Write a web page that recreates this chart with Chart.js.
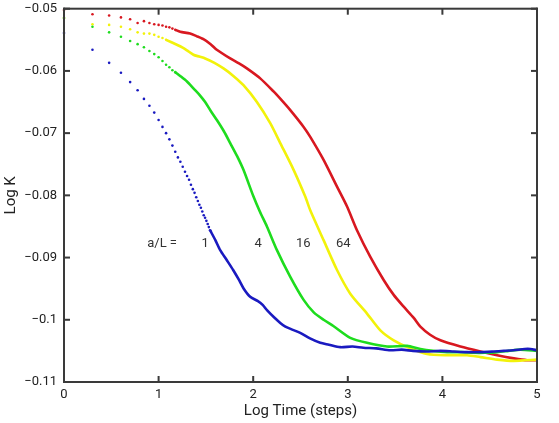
<!DOCTYPE html>
<html>
<head>
<meta charset="utf-8">
<script src="https://cdn.jsdelivr.net/npm/chart.js@4/dist/chart.umd.min.js"></script>
<style>
    html, body { margin: 0; padding: 0; background: #fff; overflow: hidden; }
    #wrap { width: 559px; height: 423px; }
</style>
</head>
<body>
<div id="wrap"><canvas id="kChart"></canvas></div>
<script>
// log10 of the first time steps (the dotted start of each curve)
var logT = [0, 0.301, 0.477, 0.602, 0.699, 0.778, 0.845, 0.903, 0.954, 1.000,
    1.041, 1.079, 1.114, 1.146, 1.176, 1.204, 1.230, 1.255, 1.279, 1.301,
    1.322, 1.342, 1.362, 1.380, 1.398, 1.415, 1.431, 1.447, 1.462, 1.477,
    1.491, 1.505, 1.519, 1.531, 1.544];

// a/L = 1
var blueDots = [-0.0539, -0.0566, -0.0587, -0.0603, -0.0618, -0.0631, -0.0645, -0.0656, -0.0667, -0.0679,
    -0.0690, -0.0700, -0.0710, -0.0720, -0.0730, -0.0739, -0.0746, -0.0754, -0.0762, -0.0769,
    -0.0775, -0.0783, -0.0790, -0.0796, -0.0803, -0.0809, -0.0815, -0.0820, -0.0826, -0.0832,
    -0.0836, -0.0841, -0.0846, -0.0851, -0.0856];
var blueLineX = [1.544, 1.60, 1.651, 1.72, 1.788, 1.85, 1.90, 1.968, 2.05, 2.10, 2.148, 2.22, 2.286, 2.34, 2.40, 2.497, 2.60, 2.709, 2.80, 2.92, 3.05, 3.164, 3.30, 3.45, 3.57, 3.69, 3.83, 3.98, 4.12, 4.26, 4.40, 4.54, 4.65, 4.75, 4.87, 4.93, 5.0];
var blueLineY = [-0.0856, -0.0872, -0.0888, -0.0904, -0.0920, -0.0936, -0.0950, -0.0963, -0.0970, -0.0976, -0.0985, -0.0996, -0.1005, -0.1011, -0.1015, -0.1021, -0.1030, -0.1037, -0.1040, -0.1044, -0.1043, -0.1045, -0.1046, -0.1049, -0.1048, -0.1050, -0.1051, -0.1050, -0.1051, -0.1052, -0.1052, -0.1051, -0.1050, -0.1049, -0.1047, -0.1047, -0.1049];

// a/L = 4
var greenDots = [-0.0515, -0.0529, -0.0538, -0.0545, -0.0552, -0.0557, -0.0562, -0.0568, -0.0573, -0.0578,
    -0.0584, -0.0590, -0.0594, -0.0599, -0.0602];
var greenLineX = [1.176, 1.228, 1.30, 1.368, 1.43, 1.492, 1.55, 1.616, 1.69, 1.757, 1.83, 1.897, 2.003, 2.07, 2.145, 2.251, 2.392, 2.533, 2.64, 2.744, 2.847, 3.026, 3.203, 3.415, 3.626, 3.767, 3.90, 4.05, 4.20, 4.328, 4.45, 4.582, 4.70, 4.825, 5.0];
var greenLineY = [-0.0602, -0.0608, -0.0617, -0.0628, -0.0638, -0.0650, -0.0664, -0.0679, -0.0697, -0.0716, -0.0737, -0.0759, -0.0802, -0.0826, -0.0850, -0.0888, -0.0931, -0.0968, -0.0988, -0.1000, -0.1010, -0.1029, -0.1037, -0.1043, -0.1042, -0.1047, -0.1050, -0.1052, -0.1052, -0.1053, -0.1053, -0.1052, -0.1050, -0.1048, -0.1050];

// a/L = 16
var yellowDots = [-0.0515, -0.0525, -0.0526, -0.0529, -0.0533, -0.0538, -0.0540, -0.0540, -0.0542, -0.0545,
    -0.0547, -0.0550];
var yellowLineX = [1.079, 1.193, 1.259, 1.30, 1.368, 1.43, 1.492, 1.59, 1.686, 1.79, 1.897, 2.039, 2.18, 2.286, 2.427, 2.55, 2.603, 2.744, 2.886, 3.026, 3.203, 3.344, 3.485, 3.661, 3.838, 4.05, 4.261, 4.402, 4.579, 4.755, 5.0];
var yellowLineY = [-0.0550, -0.0558, -0.0563, -0.0567, -0.0574, -0.0577, -0.0580, -0.0587, -0.0596, -0.0608, -0.0623, -0.0650, -0.0684, -0.0716, -0.0759, -0.0802, -0.0824, -0.0872, -0.0920, -0.0958, -0.0990, -0.1017, -0.1033, -0.1046, -0.1055, -0.1057, -0.1057, -0.1060, -0.1064, -0.1066, -0.1064];

// a/L = 64
var redDots = [-0.0502, -0.0509, -0.0511, -0.0514, -0.0517, -0.0523, -0.0520, -0.0523, -0.0525, -0.0526,
    -0.0527, -0.0529, -0.0530, -0.0532, -0.0534];
var redLineX = [1.176, 1.228, 1.333, 1.40, 1.474, 1.55, 1.615, 1.757, 1.85, 1.933, 2.074, 2.215, 2.30, 2.392, 2.533, 2.603, 2.744, 2.886, 2.992, 3.097, 3.238, 3.379, 3.485, 3.591, 3.697, 3.767, 3.87, 3.979, 4.19, 4.402, 4.579, 4.755, 4.896, 5.0];
var redLineY = [-0.0534, -0.0537, -0.0540, -0.0544, -0.0549, -0.0557, -0.0566, -0.0580, -0.0588, -0.0596, -0.0612, -0.0633, -0.0647, -0.0663, -0.0690, -0.0706, -0.0743, -0.0786, -0.0818, -0.0856, -0.0899, -0.0936, -0.0960, -0.0979, -0.0997, -0.1011, -0.1024, -0.1033, -0.1043, -0.1051, -0.1057, -0.1062, -0.1065, -0.1065];

var xTickLabels = ['0', '1', '2', '3', '4', '5'];
var yTickLabels = ['\u22120.11', '\u22120.1', '\u22120.09', '\u22120.08', '\u22120.07', '\u22120.06', '\u22120.05'];
var curveLabels = ['a/L =', '1', '4', '16', '64'];
var curveLabelX = [1.037, 1.492, 2.053, 2.529, 2.952];
var curveLabelY = -0.0878;

var BLUE = '#1a1ac0';
var GREEN = '#1edc1e';
var YELLOW = '#f2f20a';
var RED = '#d81820';
var FONT = 'Roboto, "Liberation Sans", sans-serif';

function pts(xs, ys) {
    return xs.map(function (x, i) { return {x: x, y: ys[i]}; });
}

function dotSet(ys, color) {
    return {
        data: ys.map(function (y, i) { return {x: logT[i], y: y}; }),
        showLine: false,
        pointRadius: 1.3,
        pointBorderWidth: 0,
        pointBackgroundColor: color,
        borderColor: color,
        clip: 4
    };
}

function lineSet(xs, ys, color) {
    return {
        data: pts(xs, ys),
        showLine: true,
        borderColor: color,
        borderWidth: 2.6,
        pointRadius: 0,
        tension: 0.25
    };
}

// box with inward ticks, placed from the scales themselves, then the a/L labels
var frame = {
    id: 'frame',
    afterDraw: function (chart) {
        var c = chart.ctx;
        var xs = chart.scales.x, ys = chart.scales.y;
        var L = xs.getPixelForValue(xs.min), R = xs.getPixelForValue(xs.max);
        var T = ys.getPixelForValue(ys.max), B = ys.getPixelForValue(ys.min);
        c.save();
        c.fillStyle = '#3a3a3a';
        c.fillRect(L - 1, T - 1, R - L + 2, 2);
        c.fillRect(L - 1, B - 1, R - L + 2, 2);
        c.fillRect(L - 1, T - 1, 2, B - T + 2);
        c.fillRect(R - 1, T - 1, 2, B - T + 2);
        xs.ticks.forEach(function (t) {
            var px = xs.getPixelForValue(t.value);
            c.fillRect(px - 1, B - 6, 2, 6);
            c.fillRect(px - 1, T, 2, 6);
        });
        ys.ticks.forEach(function (t) {
            var py = ys.getPixelForValue(t.value);
            c.fillRect(L, py - 1, 6, 2);
            c.fillRect(R - 6, py - 1, 6, 2);
        });
        c.fillStyle = '#333';
        c.font = '13px ' + FONT;
        c.textAlign = 'center';
        c.textBaseline = 'middle';
        curveLabels.forEach(function (txt, i) {
            c.fillText(txt, xs.getPixelForValue(curveLabelX[i]), ys.getPixelForValue(curveLabelY));
        });
        c.restore();
    }
};

var tickFont = {family: FONT, size: 13};

new Chart(document.getElementById('kChart'), {
    type: 'scatter',
    data: {
        datasets: [
            lineSet(blueLineX, blueLineY, BLUE), dotSet(blueDots, BLUE),
            lineSet(greenLineX, greenLineY, GREEN), dotSet(greenDots, GREEN),
            lineSet(yellowLineX, yellowLineY, YELLOW), dotSet(yellowDots, YELLOW),
            lineSet(redLineX, redLineY, RED), dotSet(redDots, RED)
        ]
    },
    options: {
        responsive: true,
        maintainAspectRatio: false,
        animation: false,
        layout: {padding: {left: 0, right: 22, top: 8.7, bottom: 0}},
        plugins: {legend: {display: false}, tooltip: {enabled: false}},
        scales: {
            x: {
                type: 'linear', min: 0, max: 5,
                grid: {display: false, drawTicks: false},
                border: {display: false},
                afterFit: function (s) { s.height = 41; },
                ticks: {
                    stepSize: 1, padding: 5, color: '#222', font: tickFont,
                    callback: function (v) { return xTickLabels[Math.round(v)]; }
                },
                title: {
                    display: true, text: 'Log Time (steps)', color: '#222',
                    font: {family: FONT, size: 15}, padding: {top: 0, bottom: 3}
                }
            },
            y: {
                type: 'linear', min: -0.11, max: -0.05,
                // label gap comes from the (hidden) tick length so it does not push the plot top down
                grid: {display: false, drawTicks: true, tickLength: 7},
                border: {display: false},
                afterFit: function (s) { s.width = 64; },
                ticks: {
                    stepSize: 0.01, padding: 0, color: '#222', font: tickFont,
                    callback: function (v) { return yTickLabels[Math.round((v + 0.11) * 100)]; }
                },
                title: {
                    display: true, text: 'Log K', color: '#222',
                    font: {family: FONT, size: 15}, padding: {top: 2, bottom: 0}
                }
            }
        }
    },
    plugins: [frame]
});
</script>
</body>
</html>
